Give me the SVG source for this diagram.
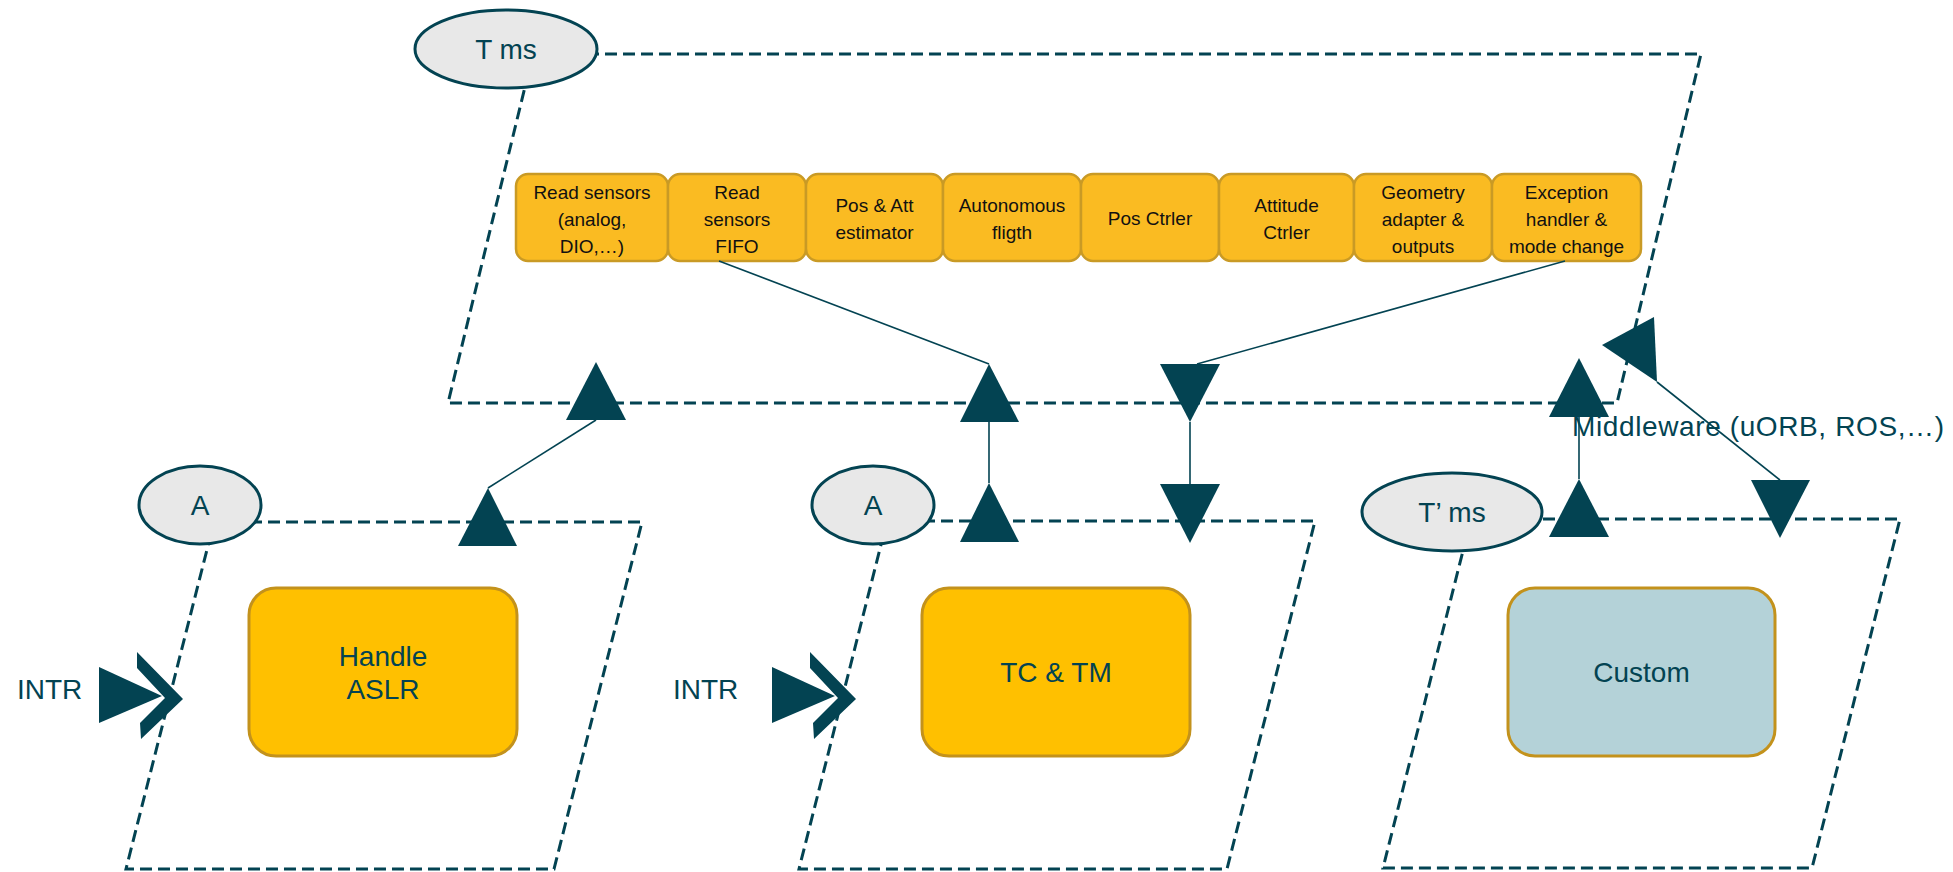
<svg xmlns="http://www.w3.org/2000/svg" width="1953" height="872" viewBox="0 0 1953 872">
  <style>
    .frame { fill: none; stroke: #034352; stroke-width: 3; stroke-dasharray: 12 6; }
    .clock { fill: #e8e8e8; stroke: #034352; stroke-width: 3; }
    .task { fill: #fabb22; stroke: #c99a25; stroke-width: 2.5; }
    .proc { fill: #ffc000; stroke: #c3921c; stroke-width: 3; }
    .custom { fill: #b4d2d8; stroke: #c3921c; stroke-width: 3; }
    .head { fill: #034352; }
    .wire { fill: none; stroke: #034352; stroke-width: 1.6; }
    .lbl { font-family: "Liberation Sans", Arial, sans-serif; font-size: 28px; fill: #034352; text-anchor: middle; }
    .lbl-l { font-family: "Liberation Sans", Arial, sans-serif; font-size: 28px; fill: #034352; }
    .tl { font-family: "Liberation Sans", Arial, sans-serif; font-size: 19px; fill: #111111; text-anchor: middle; }
  </style>

  <!-- periodic frame T ms -->
  <g id="frame-t">
    <path class="frame" d="M533,54 L1701,54 L1617,403 L448,403 Z"/>
  </g>
  <!-- interrupt frames and T' frame -->
  <g id="frame-a1">
    <path class="frame" d="M214,522 L642,522 L554,869 L126,869 Z"/>
  </g>
  <g id="frame-a2">
    <path class="frame" d="M887,521 L1315,521 L1227,869 L799,869 Z"/>
  </g>
  <g id="frame-t2">
    <path class="frame" d="M1471,519 L1900,519 L1812,868 L1383,868 Z"/>
  </g>

  <!-- task chain -->
  <g id="task-read-analog">
    <rect class="task" x="516" y="174" width="152" height="87" rx="12"/>
    <text class="tl" x="592" y="199">Read sensors</text>
    <text class="tl" x="592" y="226">(analog,</text>
    <text class="tl" x="592" y="253">DIO,…)</text>
  </g>
  <g id="task-read-fifo">
    <rect class="task" x="668" y="174" width="138" height="87" rx="12"/>
    <text class="tl" x="737" y="199">Read</text>
    <text class="tl" x="737" y="226">sensors</text>
    <text class="tl" x="737" y="253">FIFO</text>
  </g>
  <g id="task-estimator">
    <rect class="task" x="806" y="174" width="137" height="87" rx="12"/>
    <text class="tl" x="874.5" y="212">Pos &amp; Att</text>
    <text class="tl" x="874.5" y="239">estimator</text>
  </g>
  <g id="task-autonomous">
    <rect class="task" x="943" y="174" width="138" height="87" rx="12"/>
    <text class="tl" x="1012" y="212">Autonomous</text>
    <text class="tl" x="1012" y="239">fligth</text>
  </g>
  <g id="task-pos-ctrl">
    <rect class="task" x="1081" y="174" width="138" height="87" rx="12"/>
    <text class="tl" x="1150" y="225">Pos Ctrler</text>
  </g>
  <g id="task-att-ctrl">
    <rect class="task" x="1219" y="174" width="135" height="87" rx="12"/>
    <text class="tl" x="1286.5" y="212">Attitude</text>
    <text class="tl" x="1286.5" y="239">Ctrler</text>
  </g>
  <g id="task-geometry">
    <rect class="task" x="1354" y="174" width="138" height="87" rx="12"/>
    <text class="tl" x="1423" y="199">Geometry</text>
    <text class="tl" x="1423" y="226">adapter &amp;</text>
    <text class="tl" x="1423" y="253">outputs</text>
  </g>
  <g id="task-exception">
    <rect class="task" x="1492" y="174" width="149" height="87" rx="12"/>
    <text class="tl" x="1566.5" y="199">Exception</text>
    <text class="tl" x="1566.5" y="226">handler &amp;</text>
    <text class="tl" x="1566.5" y="253">mode change</text>
  </g>

  <!-- processes -->
  <g id="proc-aslr">
    <rect class="proc" x="249" y="588" width="268" height="168" rx="27"/>
    <text class="lbl" x="383" y="666">Handle</text>
    <text class="lbl" x="383" y="699">ASLR</text>
  </g>
  <g id="proc-tctm">
    <rect class="proc" x="922" y="588" width="268" height="168" rx="27"/>
    <text class="lbl" x="1056" y="682">TC &amp; TM</text>
  </g>
  <g id="proc-custom">
    <rect class="custom" x="1508" y="588" width="267" height="168" rx="27"/>
    <text class="lbl" x="1641.5" y="682">Custom</text>
  </g>

  <!-- connectors and their arrowheads -->
  <g id="connectors">
    <line class="wire" x1="719" y1="261" x2="989" y2="364"/>
    <line class="wire" x1="1565" y1="261" x2="1197" y2="364"/>
    <line class="wire" x1="596" y1="420" x2="488" y2="488"/>
    <line class="wire" x1="989" y1="422" x2="989" y2="483"/>
    <line class="wire" x1="1190" y1="422" x2="1190" y2="484"/>
    <line class="wire" x1="1579" y1="417" x2="1579" y2="479"/>
    <line class="wire" x1="1657" y1="382" x2="1780" y2="480"/>

    <polygon class="head" points="596,362 626,420 566,420"/>
    <polygon class="head" points="488,488 517,546 458,546"/>
    <polygon class="head" points="989,364 1019,422 960,422"/>
    <polygon class="head" points="989,483 1019,542 960,542"/>
    <polygon class="head" points="1160,364 1220,364 1190,422"/>
    <polygon class="head" points="1160,484 1220,484 1190,543"/>
    <polygon class="head" points="1579,358 1609,417 1549,417"/>
    <polygon class="head" points="1579,479 1609,537 1549,537"/>
    <polygon class="head" points="1654,317 1602,345 1657,382"/>
    <polygon class="head" points="1751,480 1810,480 1780,538"/>
  </g>

  <!-- interrupt inputs -->
  <g id="intr-1">
    <text class="lbl-l" x="17" y="699">INTR</text>
    <polygon class="head" points="99,667 162,696 99,723"/>
    <polygon class="head" points="137,652 183,699 141,739 140,723 165,698 137,668"/>
  </g>
  <g id="intr-2">
    <text class="lbl-l" x="673" y="699">INTR</text>
    <polygon class="head" points="772,667 835,696 772,723"/>
    <polygon class="head" points="810,652 856,699 814,739 813,723 838,698 810,668"/>
  </g>

  <!-- period / trigger labels -->
  <g id="clock-t">
    <ellipse class="clock" cx="506" cy="49" rx="91" ry="39"/>
    <text class="lbl" x="506" y="59">T ms</text>
  </g>
  <g id="clock-a1">
    <ellipse class="clock" cx="200" cy="505" rx="61" ry="39"/>
    <text class="lbl" x="200" y="515">A</text>
  </g>
  <g id="clock-a2">
    <ellipse class="clock" cx="873" cy="505" rx="61" ry="39"/>
    <text class="lbl" x="873" y="515">A</text>
  </g>
  <g id="clock-t2">
    <ellipse class="clock" cx="1452" cy="512" rx="90" ry="39"/>
    <text class="lbl" x="1452" y="522">T’ ms</text>
  </g>

  <g id="middleware">
    <text class="lbl-l" x="1572" y="436" textLength="372">Middleware (uORB, ROS,…)</text>
  </g>
</svg>
